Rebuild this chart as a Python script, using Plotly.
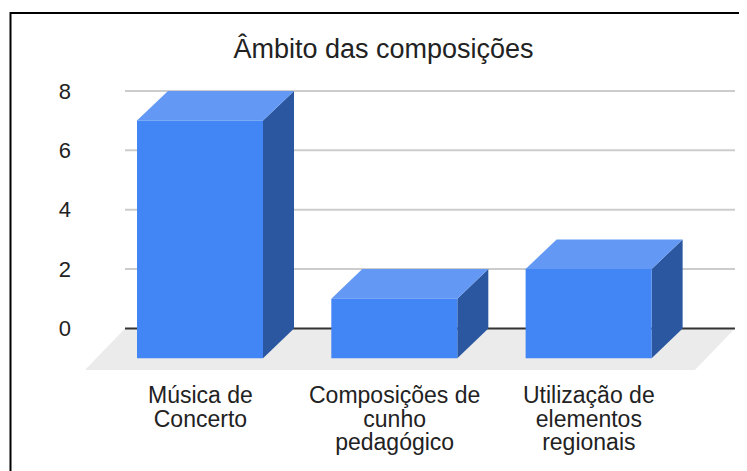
import plotly.graph_objects as go

# ---- data ----
categories = [["Música de", "Concerto"],
              ["Composições de", "cunho", "pedagógico"],
              ["Utilização de", "elementos", "regionais"]]
values = [7, 1, 2]
y_ticks = [0, 2, 4, 6, 8]
title_text = "Âmbito das composições"

# ---- layout geometry ----
OFF = 8                      # page body margin
W, H = 747 - OFF, 471 - OFF
ML, MR, MT, MB = 80 - OFF, 7, 85 - OFF, 11
X_RANGE = [-0.6176, 2.779]
Y_RANGE = [-4.428, 8.199]
BAR_W = 0.6485
DX = 0.1595          # depth offset in x (category units)
DY = 1.0             # depth offset in y (value units)
GRID_X = [-0.386, 2.753]
FLOOR_DX = -0.206
FLOOR_DY = -1.397

FONT = "Liberation Sans, Arial, sans-serif"
FRONT = "#4285F4"
TOP = "#6399F5"
SIDE = "#2A57A0"
LABEL_SIZE = 23
LABEL_PITCH = 23.5

shapes = []
# floor
shapes.append(dict(type="path", xref="x", yref="y",
                   path=f"M {GRID_X[0]} 0 L {GRID_X[1]} 0 L {GRID_X[1]+FLOOR_DX} {FLOOR_DY} "
                        f"L {GRID_X[0]+FLOOR_DX} {FLOOR_DY} Z",
                   fillcolor="#EBEBEB", line=dict(width=0)))
# gridlines
for t in y_ticks:
    if t == 0:
        continue
    shapes.append(dict(type="line", xref="x", yref="y", x0=GRID_X[0], x1=GRID_X[1], y0=t, y1=t,
                       line=dict(color="#CCCCCC", width=2)))
shapes.append(dict(type="line", xref="x", yref="y", x0=GRID_X[0], x1=GRID_X[1], y0=0, y1=0,
                   line=dict(color="#333333", width=2)))

# bars
for k, v in enumerate(values):
    x0, x1 = k - BAR_W / 2, k + BAR_W / 2
    base = -DY
    shapes.append(dict(type="path", xref="x", yref="y",
                       path=f"M {x1} {base} L {x1} {v} L {x1+DX} {v+DY} L {x1+DX} {base+DY} Z",
                       fillcolor=SIDE, line=dict(width=0)))
    shapes.append(dict(type="path", xref="x", yref="y",
                       path=f"M {x0} {v} L {x1} {v} L {x1+DX} {v+DY} L {x0+DX} {v+DY} Z",
                       fillcolor=TOP, line=dict(width=0)))
    shapes.append(dict(type="rect", xref="x", yref="y", x0=x0, x1=x1, y0=base, y1=v,
                       fillcolor=FRONT, line=dict(width=0)))

# frame border (left and top), page pixel coords converted to paper
def px2paper_x(px):
    return (px - OFF - ML) / (W - ML - MR)

def px2paper_y(py):
    return (H - MB - (py - OFF)) / (H - MT - MB)

shapes.append(dict(type="path", xref="paper", yref="paper",
                   path=f"M {px2paper_x(10.5)} {px2paper_y(480)} L {px2paper_x(10.5)} {px2paper_y(13)} "
                        f"L {px2paper_x(760)} {px2paper_y(13)}",
                   line=dict(color="#000000", width=2)))

# category labels: one text per category, tight line pitch
annotations = []
for k, lines in enumerate(categories):
    txt = "<br>".join(f'<span style="font-size:{LABEL_SIZE}px">{ln}</span>' for ln in lines)
    annotations.append(dict(x=k, y=-1.72, xref="x", yref="y", text=txt, showarrow=False,
                            xanchor="center", yanchor="top", align="center",
                            font=dict(family=FONT, size=LABEL_PITCH / 1.3, color="#222222")))

fig = go.Figure()
fig.add_trace(go.Scatter(x=[0, 1, 2], y=values, mode="markers", marker=dict(opacity=0),
                         hoverinfo="skip", showlegend=False))
fig.update_layout(
    width=W, height=H,
    margin=dict(l=ML, r=MR, t=MT, b=MB),
    paper_bgcolor="white", plot_bgcolor="white",
    title=dict(text=title_text, x=(383.5 - OFF) / W, xref="container", xanchor="center",
               y=1 - (49 - OFF) / H, yref="container", yanchor="middle",
               font=dict(family=FONT, size=27, color="#222222")),
    xaxis=dict(range=X_RANGE, visible=False, fixedrange=True),
    yaxis=dict(range=Y_RANGE, tickvals=y_ticks, ticktext=[str(t) for t in y_ticks],
               showgrid=False, zeroline=False, showline=False, ticks="",
               ticklabelstandoff=8,
               tickfont=dict(family=FONT, size=22, color="#222222"), fixedrange=True),
    shapes=shapes,
    annotations=annotations,
    showlegend=False,
)
fig.write_html("out.html")
